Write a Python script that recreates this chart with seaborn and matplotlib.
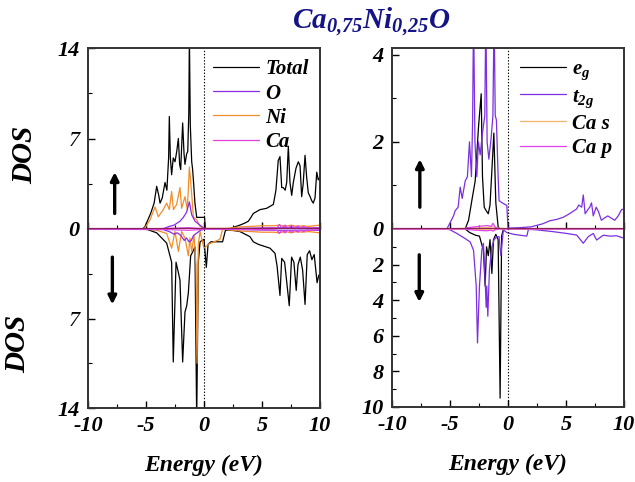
import numpy as np
import pandas as pd
import matplotlib
matplotlib.use("Agg")
import matplotlib.pyplot as plt
import seaborn as sns

# ---------------- data ----------------
# Left panel: Total, O, Ni, Ca  (spin up / spin down)
TOT_UP_E = [-10, -5.3, -5.09, -4.94, -4.6, -4.3, -4.08, -3.9, -3.79, -3.6, -3.36, -3.2, -3.05, -2.99, -2.9,
            -2.79, -2.65, -2.5, -2.35, -2.21, -2.1, -2.01, -1.92, -1.84, -1.72, -1.64, -1.5, -1.4, -1.31, -1.26,
            -1.18, -1.06, -0.98, -0.9, -0.78, -0.63, -0.3, 0.05, 0.12, 2.2, 2.6, 3.1, 3.5, 3.82, 4.05, 4.25,
            4.83, 5.4, 5.69, 5.98, 6.2, 6.4, 6.55, 6.7, 6.84, 7.0, 7.13, 7.27, 7.41, 7.56, 7.7, 7.93, 8.13,
            8.28, 8.42, 8.55, 8.71, 8.85, 8.99, 9.15, 9.28, 9.42, 9.57, 9.72, 9.85, 10]
TOT_UP = [0, 0, 0.18, 0.5, 1.2, 2.0, 3.3, 2.6, 2.0, 2.4, 3.6, 3.0, 5.5, 8.7, 5.5,
          4.2, 5.5, 5.2, 6.0, 7.0, 5.0, 4.6, 6.5, 8.2, 5.8, 5.0, 5.8, 6.0, 9.0, 15.0,
          8.0, 5.2, 4.6, 3.6, 2.0, 0.9, 0.9, 0.9, 0.0, 0.0, 0.15, 0.3, 0.45, 0.6, 0.9, 1.2,
          1.5, 1.6, 1.75, 1.9, 3.0, 5.3, 5.6, 3.2, 3.2, 3.0, 3.6, 6.4, 3.6, 2.6, 3.6, 4.7, 5.2,
          4.9, 2.5, 3.5, 5.7, 4.0, 2.8, 2.5, 2.2, 2.0, 2.4, 4.4, 3.8, 4.0]
TOT_DN_E = [-10, -5.3, -5.0, -4.08, -3.22, -2.79, -2.65, -2.41, -2.21, -2.07, -1.84, -1.64, -1.49, -1.35,
            -1.15, -0.98, -0.78, -0.63, -0.49, -0.34, 0.0, 0.2, 0.35, 0.6, 1.6, 1.85, 2.24, 3.1, 3.96, 4.25,
            4.68, 5.69, 6.12, 6.3, 6.55, 6.7, 6.95, 7.35, 7.55, 7.75, 7.95, 8.1, 8.3, 8.5, 8.71, 8.9, 9.1,
            9.3, 9.5, 9.75, 9.9, 10]
TOT_DN = [0, 0, 0.0, 0.3, 1.1, 2.6, 10.4, 2.6, 3.4, 4.0, 10.4, 6.5, 6.0, 5.0,
          2.1, 1.8, 1.4, 15.0, 2.6, 1.0, 0.8, 3.0, 1.2, 1.0, 1.0, 0.1, 0.08, 0.2, 0.6, 1.0,
          1.2, 1.5, 1.9, 2.9, 5.2, 2.3, 2.6, 6.0, 2.2, 2.6, 4.8, 2.8, 2.2, 3.2, 5.9, 2.0, 1.7,
          2.4, 2.0, 4.2, 3.6, 3.8]

O_UP_E = [-10, -3.5, -3.0, -2.58, -2.07, -1.78, -1.5, -1.26, -1.06, -0.77, -0.49, -0.2, 0.05, 2.0, 5.0, 7.0, 9.0, 10]
O_UP = [0, 0.02, 0.2, 0.3, 0.6, 0.9, 1.3, 2.1, 1.1, 0.6, 0.4, 0.2, 0.0, 0.02, 0.08, 0.1, 0.08, 0.1]
O_DN_E = [-10, -3.5, -3.0, -2.6, -2.3, -2.0, -1.7, -1.5, -1.3, -1.1, -0.9, -0.6, -0.3, 0.05, 2.0, 5.0, 7.0, 9.0, 10]
O_DN = [0, 0.05, 0.2, 0.4, 0.3, 0.5, 0.9, 0.7, 1.0, 0.9, 0.5, 0.3, 0.1, 0.0, 0.02, 0.08, 0.1, 0.08, 0.1]

NI_UP_E = [-10, -5.3, -5.09, -4.66, -4.22, -3.94, -3.51, -3.22, -2.99, -2.79, -2.64, -2.36, -2.07, -1.93,
           -1.64, -1.44, -1.26, -1.06, -0.92, -0.63, -0.34, -0.06, 2.0, 3.0, 4.0, 5.0, 6.0, 6.5, 7.0, 7.5,
           8.0, 8.5, 9.0, 9.5, 10]
NI_UP = [0, 0, 0.1, 0.7, 1.7, 0.95, 1.5, 2.0, 1.5, 2.9, 1.5, 1.9, 3.2, 1.6,
         2.5, 1.5, 4.8, 2.7, 0.95, 0.7, 0.2, 0.05, 0.05, 0.15, 0.2, 0.25, 0.25, 0.3, 0.2, 0.3,
         0.2, 0.25, 0.2, 0.25, 0.3]
NI_DN_E = [-10, -5.3, -5.09, -4.08, -3.22, -2.79, -2.5, -2.21, -1.93, -1.64, -1.35, -1.21, -1.06, -0.86,
           -0.69, -0.6, -0.49, -0.34, 0.0, 0.37, 1.38, 1.61, 2.0, 3.0, 4.0, 5.0, 6.0, 6.5, 7.0, 7.5,
           8.0, 8.5, 9.0, 9.5, 10]
NI_DN = [0, 0, 0.0, 0.1, 0.35, 1.5, 0.2, 1.75, 0.2, 0.7, 2.1, 0.7, 1.75, 0.5,
         2.8, 10.5, 1.2, 0.2, 1.5, 1.2, 0.8, 0.0, 0.05, 0.15, 0.2, 0.25, 0.25, 0.3, 0.2, 0.3,
         0.2, 0.25, 0.2, 0.25, 0.3]

CA_UP_E = [-10, -4.0, -3.0, -2.0, -1.3, -0.5, 0.0, 2.0, 5.0, 6.0, 6.3, 6.5, 6.7, 7.0, 7.2, 7.6, 7.8,
           8.1, 8.3, 8.6, 8.8, 9.2, 10]
CA_UP = [0, 0.02, 0.05, 0.08, 0.1, 0.05, 0.0, 0.02, 0.05, 0.08, 0.1, 0.35, 0.1, 0.3, 0.1, 0.25, 0.1,
         0.25, 0.1, 0.2, 0.1, 0.08, 0.05]
CA_DN_E = [-10, -4.0, -3.0, -2.0, -1.3, -0.5, 0.0, 2.0, 5.0, 6.0, 6.3, 6.5, 6.7, 7.0, 7.2, 7.6, 7.8,
           8.1, 8.3, 8.6, 8.8, 9.2, 10]
CA_DN = [0, 0.02, 0.05, 0.08, 0.1, 0.05, 0.0, 0.02, 0.05, 0.08, 0.1, 0.35, 0.1, 0.3, 0.1, 0.25, 0.1,
         0.25, 0.1, 0.2, 0.1, 0.08, 0.05]

# Right panel: e_g, t_2g, Ca s, Ca p  (spin up / spin down)
EG_UP_E = [-10, -3.69, -3.4, -3.12, -2.83, -2.54, -2.31, -2.2, -2.05, -1.88, -1.7, -1.55, -1.31, -1.22,
           -1.05, -0.85, -0.7, 10]
EG_UP = [0, 0, 0.2, 0.65, 1.1, 2.35, 3.1, 1.2, 0.5, 0.42, 0.35, 0.55, 1.74, 2.2, 0.6, 0.05, 0, 0]
EG_DN_E = [-10, -3.69, -3.3, -2.8, -2.46, -2.12, -1.97, -1.85, -1.7, -1.55, -1.39, -1.25, -1.05, -0.85,
           -0.68, -0.55, -0.4, 10]
EG_DN = [0, 0, 0.2, 0.35, 0.4, 1.2, 3.2, 1.0, 1.5, 0.6, 2.5, 0.6, 0.3, 0.6, 9.5, 0.4, 0, 0]

T2G_UP_E = [-10, -5.27, -4.98, -4.7, -4.55, -4.3, -4.12, -3.95, -3.69, -3.5, -3.32, -3.15, -3.05, -2.97,
            -2.85, -2.69, -2.55, -2.4, -2.2, -2.0, -1.91, -1.8, -1.65, -1.45, -1.3, -1.2, -1.1, -1.0,
            -0.85, -0.77, -0.5, -0.1, 0.0, 1.0, 2.0, 3.0, 3.62, 4.2, 4.77, 5.3, 5.92, 6.1, 6.35, 6.49,
            6.65, 6.9, 7.05, 7.2, 7.35, 7.6, 7.8, 8.05, 8.3, 8.6, 8.9, 9.2, 9.5, 9.8, 10]
T2G_UP = [0, 0, 0.15, 0.3, 0.42, 0.5, 0.96, 0.7, 1.1, 1.2, 2.0, 1.2, 2.5, 5.0,
          2.0, 1.2, 2.0, 1.7, 2.2, 2.6, 5.0, 2.0, 1.6, 2.1, 2.6, 5.0, 2.6, 2.5,
          1.2, 0.65, 0.6, 0.54, 0.02, 0.03, 0.05, 0.12, 0.19, 0.22, 0.27, 0.35, 0.46, 0.55, 0.5, 0.78,
          0.35, 0.45, 0.5, 0.6, 0.3, 0.5, 0.4, 0.2, 0.25, 0.3, 0.25, 0.2, 0.3, 0.45, 0.45]
T2G_DN_E = [-10, -5.27, -4.98, -4.41, -3.69, -3.26, -2.97, -2.74, -2.63, -2.46, -2.26, -2.12, -1.97,
            -1.88, -1.83, -1.74, -1.6, -1.39, -1.2, -0.96, -0.77, -0.62, -0.4, -0.1, 0.5, 1.62, 1.76,
            2.5, 3.9, 5.06, 5.92, 6.49, 6.92, 7.35, 7.64, 8.21, 8.79, 9.36, 10]
T2G_DN = [0, 0, 0.05, 0.25, 0.54, 0.73, 1.2, 3.2, 6.4, 3.2, 1.2, 0.8, 2.9,
          4.4, 3.2, 4.9, 2.3, 1.0, 0.6, 0.43, 0.43, 1.5, 0.05, 0.2, 0.3, 0.4, 0.02,
          0.05, 0.15, 0.25, 0.34, 0.8, 0.43, 0.25, 0.62, 0.35, 0.4, 0.38, 0.52]

CAS_UP_E = [-10, -4.0, -3.0, -2.0, -1.3, -0.8, 0.0, 10]
CAS_UP = [0, 0.01, 0.02, 0.03, 0.05, 0.02, 0.0, 0.0]
CAS_DN_E = [-10, -4.0, -3.0, -2.0, -1.3, -0.8, 0.0, 10]
CAS_DN = [0, 0.01, 0.02, 0.03, 0.05, 0.02, 0.0, 0.0]
CAP_UP_E = [-10, -3.8, -3.5, -2.5, -1.8, -1.45, -1.3, -1.1, -0.8, 0.0, 10]
CAP_UP = [0, 0, 0.03, 0.06, 0.08, 0.06, 0.13, 0.04, 0.0, 0.0, 0.0]
CAP_DN_E = [-10, -3.8, -3.5, -2.5, -1.8, -1.45, -1.3, -1.1, -0.8, 0.0, 10]
CAP_DN = [0, 0, 0.03, 0.08, 0.1, 0.06, 0.12, 0.04, 0.0, 0.0, 0.0]

LEFT_LABELS = ["Total", "O", "Ni", "Ca"]
RIGHT_LABELS = [r"$e_g$", r"$t_{2g}$", "Ca s", "Ca p"]
LEFT_COLORS = ["#000000", "#8a2be2", "#f28c28", "#e040e0"]
RIGHT_COLORS = ["#000000", "#7b2fe0", "#f2b36b", "#e040f0"]
TITLE = r"Ca$_{0{,}75}$Ni$_{0{,}25}$O"

# ---------------- style ----------------
sns.set_style("ticks")
plt.rcParams["font.family"] = ["Liberation Serif", "DejaVu Serif"]
plt.rcParams["font.weight"] = "bold"
plt.rcParams["font.style"] = "italic"
plt.rcParams["text.color"] = "black"
plt.rcParams["axes.labelcolor"] = "black"
plt.rcParams["xtick.color"] = "black"
plt.rcParams["ytick.color"] = "black"
plt.rcParams["mathtext.fontset"] = "custom"
plt.rcParams["mathtext.it"] = "Liberation Serif:italic:bold"
plt.rcParams["mathtext.rm"] = "Liberation Serif:italic:bold"
plt.rcParams["mathtext.bf"] = "Liberation Serif:italic:bold"
plt.rcParams["xtick.direction"] = "in"
plt.rcParams["ytick.direction"] = "in"

W, H = 635, 482
fig = plt.figure(figsize=(W / 100, H / 100), dpi=100)

def frac_box(x0, x1, y0, y1):
    return [x0 / W, 1 - y1 / H, (x1 - x0) / W, (y1 - y0) / H]

axL_up = fig.add_axes(frac_box(88, 320, 48, 229))
axL_dn = fig.add_axes(frac_box(88, 320, 229, 408))
axR_up = fig.add_axes(frac_box(392, 624, 48, 229))
axR_dn = fig.add_axes(frac_box(392, 624, 229, 407))

ZERO_COLOR = "#8b2257"
TICK_FS = 16

def draw(ax, E, V, color, label=None, lw=0.9):
    df = pd.DataFrame({"E": E, "DOS": V})
    sns.lineplot(data=df, x="E", y="DOS", ax=ax, color=color, lw=lw,
                 label=label, legend=False, estimator=None, sort=False)

left_up = [(TOT_UP_E, TOT_UP), (O_UP_E, O_UP), (NI_UP_E, NI_UP), (CA_UP_E, CA_UP)]
left_dn = [(TOT_DN_E, TOT_DN), (O_DN_E, O_DN), (NI_DN_E, NI_DN), (CA_DN_E, CA_DN)]
right_up = [(EG_UP_E, EG_UP), (T2G_UP_E, T2G_UP), (CAS_UP_E, CAS_UP), (CAP_UP_E, CAP_UP)]
right_dn = [(EG_DN_E, EG_DN), (T2G_DN_E, T2G_DN), (CAS_DN_E, CAS_DN), (CAP_DN_E, CAP_DN)]

for i in [0, 2, 1, 3]:
    draw(axL_up, *left_up[i], LEFT_COLORS[i], LEFT_LABELS[i])
    draw(axL_dn, *left_dn[i], LEFT_COLORS[i])
for i in [0, 1, 2, 3]:
    draw(axR_up, *right_up[i], RIGHT_COLORS[i], RIGHT_LABELS[i])
    draw(axR_dn, *right_dn[i], RIGHT_COLORS[i])

font_tick = dict(family="Liberation Serif", weight="bold", style="italic", size=TICK_FS)

for ax in [axL_up, axL_dn, axR_up, axR_dn]:
    ax.set_xlim(-10, 10)
    ax.axvline(0, color="black", ls=(0, (1.2, 1.6)), lw=0.8)
    ax.set_xlabel("")
    ax.set_ylabel("")
    ax.set_xticks([-10, -5, 0, 5, 10])
    ax.set_xticks([-7.5, -2.5, 2.5, 7.5], minor=True)
    ax.tick_params(which="major", length=5, width=1, color="black", pad=6)
    ax.tick_params(which="minor", length=3, width=0.8, color="black")
    for s in ax.spines.values():
        s.set_color("#333333")
        s.set_linewidth(1.4)
    ax.spines["top"].set_visible(True)
    ax.spines["right"].set_visible(True)

for ax in [axL_up, axR_up]:
    ax.tick_params(axis="x", labelbottom=False)
    ax.spines["bottom"].set_color(ZERO_COLOR)
    ax.spines["bottom"].set_linewidth(1.6)
    ax.spines["bottom"].set_zorder(5)
for ax in [axL_dn, axR_dn]:
    ax.spines["top"].set_visible(False)

axL_up.set_ylim(0, 14)
axL_up.set_yticks([0, 7, 14])
axL_up.set_yticks([3.5, 10.5], minor=True)
axL_dn.set_ylim(14, 0)
axL_dn.set_yticks([7, 14])
axL_dn.set_yticks([3.5, 10.5], minor=True)
axR_up.set_ylim(0, 4.15)
axR_up.set_yticks([0, 2, 4])
axR_up.set_yticks([1, 3], minor=True)
axR_dn.set_ylim(10, 0)
axR_dn.set_yticks([2, 4, 6, 8, 10])
axR_dn.set_yticks([1, 3, 5, 7, 9], minor=True)

for ax in [axL_up, axL_dn, axR_up, axR_dn]:
    ax.set_yticklabels([f"{t:g}" for t in ax.get_yticks()], fontdict=font_tick)
    ax.set_xticklabels([f"{t:g}" for t in ax.get_xticks()], fontdict=font_tick)
for ax in [axL_up, axL_dn]:
    for lab in ax.get_yticklabels():
        if lab.get_text() == "7":
            lab.set_fontweight("normal")

font_lab = dict(family="Liberation Serif", weight="bold", style="italic", size=17)
for ax in [axL_dn, axR_dn]:
    ax.set_xlabel("Energy (eV)", fontdict=font_lab, labelpad=13)

font_dos = dict(family="Liberation Serif", weight="bold", style="italic", size=21)
fig.text(25 / W, 1 - 155 / H, "DOS", rotation=90, ha="center", va="center", **font_dos)
fig.text(18 / W, 1 - 344 / H, "DOS", rotation=90, ha="center", va="center", **font_dos)

fig.text(371 / W, 1 - 22 / H, TITLE, ha="center", va="center", color="#141486",
         family="Liberation Serif", weight="bold", style="italic", size=21)

# spin arrows
arrow = dict(arrowstyle="-|>", color="black", lw=2.4, mutation_scale=12, shrinkA=0, shrinkB=0)
axL_up.annotate("", xy=(-7.7, 4.4), xytext=(-7.7, 1.2), arrowprops=arrow)
axL_dn.annotate("", xy=(-7.9, 5.9), xytext=(-7.9, 2.2), arrowprops=arrow)
axR_up.annotate("", xy=(-7.6, 1.6), xytext=(-7.6, 0.5), arrowprops=arrow)
axR_dn.annotate("", xy=(-7.65, 4.1), xytext=(-7.65, 1.45), arrowprops=arrow)

leg_font = dict(family="Liberation Serif", weight="bold", style="italic", size=15)
for ax in [axL_up, axR_up]:
    h, l = ax.get_legend_handles_labels()
    labs = LEFT_LABELS if ax is axL_up else RIGHT_LABELS
    hd = dict(zip(l, h))
    ax.legend([hd[k] for k in labs], labs, loc="upper right", frameon=False, prop=leg_font,
              handlelength=2.2, handletextpad=0.3, labelspacing=0.2, borderaxespad=0.15)

fig.savefig("out.png", dpi=100)
